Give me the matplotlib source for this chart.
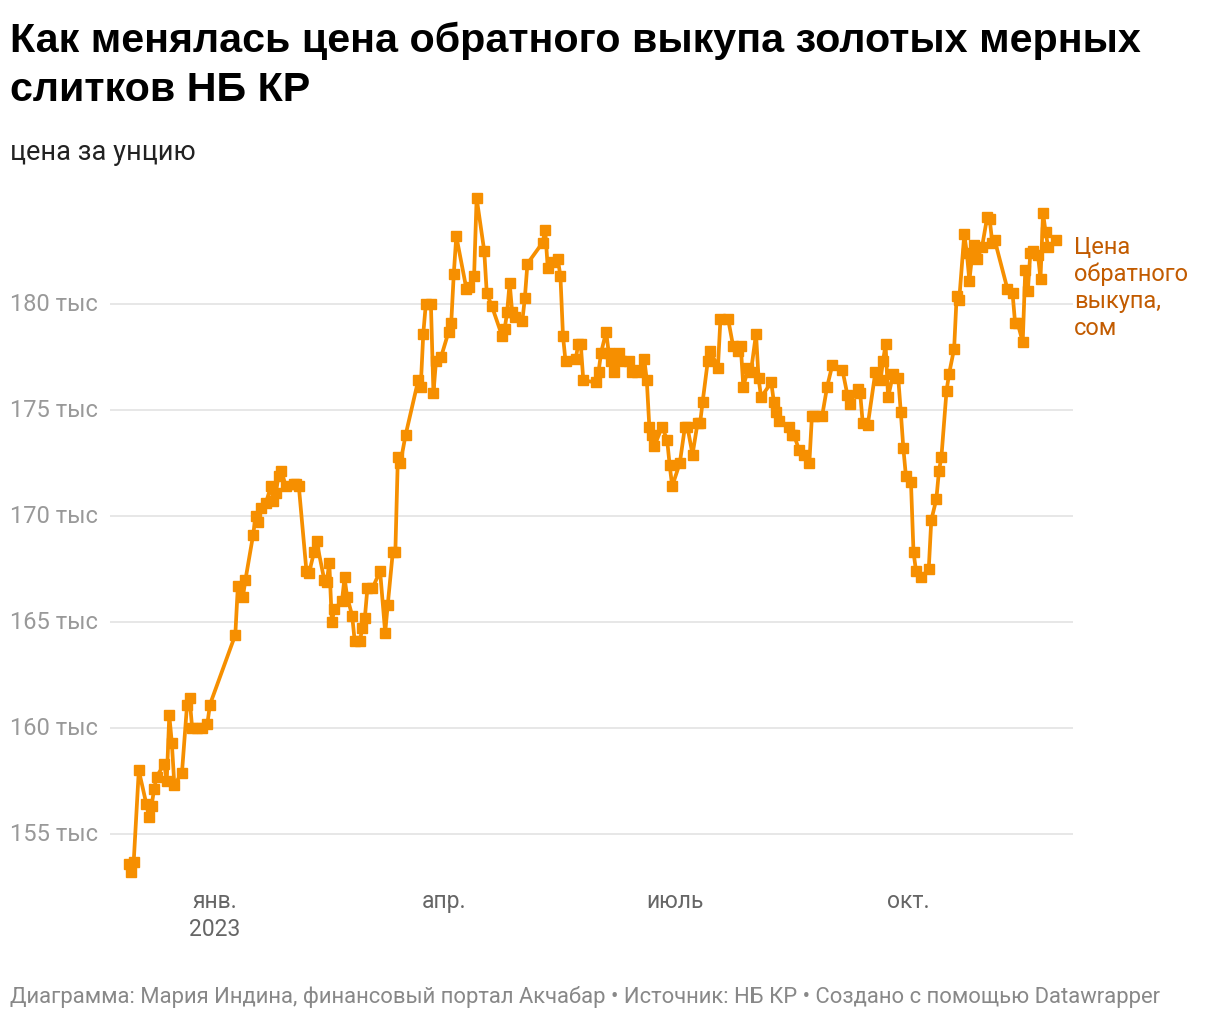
import matplotlib
matplotlib.use("Agg")
import matplotlib.pyplot as plt
import matplotlib.dates as mdates
import matplotlib.transforms as mtransforms
import pandas as pd

# buyback price, thousand som per ounce
dates = [
    "2022-11-28", "2022-11-29", "2022-11-30", "2022-12-02", "2022-12-05", "2022-12-06",
    "2022-12-07", "2022-12-08", "2022-12-09", "2022-12-12", "2022-12-13", "2022-12-14",
    "2022-12-15", "2022-12-16", "2022-12-19", "2022-12-21", "2022-12-22", "2022-12-23",
    "2022-12-25", "2022-12-27", "2022-12-29", "2022-12-30",
    "2023-01-09", "2023-01-10", "2023-01-12", "2023-01-13", "2023-01-16", "2023-01-17",
    "2023-01-18", "2023-01-19", "2023-01-21", "2023-01-23", "2023-01-24", "2023-01-25",
    "2023-01-26", "2023-01-27", "2023-01-29",
    "2023-02-01", "2023-02-02", "2023-02-03", "2023-02-06", "2023-02-07", "2023-02-09",
    "2023-02-10", "2023-02-13", "2023-02-14", "2023-02-15", "2023-02-16", "2023-02-17",
    "2023-02-20", "2023-02-21", "2023-02-22", "2023-02-24", "2023-02-25", "2023-02-27",
    "2023-02-28",
    "2023-03-01", "2023-03-02", "2023-03-04", "2023-03-07", "2023-03-09", "2023-03-10",
    "2023-03-12", "2023-03-13", "2023-03-14", "2023-03-15", "2023-03-17", "2023-03-22",
    "2023-03-23", "2023-03-24", "2023-03-25", "2023-03-27", "2023-03-28", "2023-03-29",
    "2023-03-31",
    "2023-04-03", "2023-04-04", "2023-04-05", "2023-04-06", "2023-04-10", "2023-04-11",
    "2023-04-13", "2023-04-14", "2023-04-17", "2023-04-18", "2023-04-20", "2023-04-24",
    "2023-04-25", "2023-04-26", "2023-04-27", "2023-04-28", "2023-04-29",
    "2023-05-02", "2023-05-03", "2023-05-04", "2023-05-10", "2023-05-11", "2023-05-12",
    "2023-05-14", "2023-05-16", "2023-05-17", "2023-05-18", "2023-05-19", "2023-05-23",
    "2023-05-24", "2023-05-25", "2023-05-26", "2023-05-31",
    "2023-06-01", "2023-06-02", "2023-06-04", "2023-06-05", "2023-06-06", "2023-06-07",
    "2023-06-09", "2023-06-10", "2023-06-13", "2023-06-14", "2023-06-16", "2023-06-17",
    "2023-06-19", "2023-06-20", "2023-06-21", "2023-06-22", "2023-06-23", "2023-06-26",
    "2023-06-28", "2023-06-29", "2023-06-30",
    "2023-07-03", "2023-07-05", "2023-07-06", "2023-07-08", "2023-07-10", "2023-07-11",
    "2023-07-12", "2023-07-14", "2023-07-15", "2023-07-18", "2023-07-19", "2023-07-22",
    "2023-07-24", "2023-07-26", "2023-07-27", "2023-07-28", "2023-07-30", "2023-07-31",
    "2023-08-02", "2023-08-03", "2023-08-04", "2023-08-08", "2023-08-09", "2023-08-10",
    "2023-08-11", "2023-08-15", "2023-08-16", "2023-08-17", "2023-08-19", "2023-08-21",
    "2023-08-23", "2023-08-24", "2023-08-25", "2023-08-28", "2023-08-30",
    "2023-09-01", "2023-09-05", "2023-09-07", "2023-09-08", "2023-09-11", "2023-09-12",
    "2023-09-13", "2023-09-15", "2023-09-18", "2023-09-20", "2023-09-21", "2023-09-22",
    "2023-09-23", "2023-09-25", "2023-09-27", "2023-09-28", "2023-09-29", "2023-09-30",
    "2023-10-02", "2023-10-03", "2023-10-04", "2023-10-06", "2023-10-09", "2023-10-10",
    "2023-10-12", "2023-10-13", "2023-10-14", "2023-10-16", "2023-10-17", "2023-10-19",
    "2023-10-20", "2023-10-21", "2023-10-23", "2023-10-24", "2023-10-25", "2023-10-26",
    "2023-10-27", "2023-10-28", "2023-10-30",
    "2023-11-01", "2023-11-02", "2023-11-03", "2023-11-04", "2023-11-09", "2023-11-11",
    "2023-11-12", "2023-11-13", "2023-11-15", "2023-11-16", "2023-11-17", "2023-11-18",
    "2023-11-19", "2023-11-21", "2023-11-22", "2023-11-23", "2023-11-24", "2023-11-25",
    "2023-11-28",
]

price = [
    153.6, 153.2, 153.7, 158.0, 156.4, 155.8,
    156.3, 157.1, 157.7, 158.3, 157.5, 160.6,
    159.3, 157.3, 157.9, 161.1, 161.4, 160.0,
    160.0, 160.0, 160.2, 161.1,
    164.4, 166.7, 166.2, 167.0, 169.1, 170.0,
    169.7, 170.4, 170.6, 171.4, 170.7, 171.1,
    171.9, 172.1, 171.4,
    171.5, 171.5, 171.4, 167.4, 167.3, 168.3,
    168.8, 167.0, 166.9, 167.8, 165.0, 165.6,
    166.0, 167.1, 166.2, 165.3, 164.1, 164.1,
    164.7,
    165.2, 166.6, 166.6, 167.4, 164.5, 165.8,
    168.3, 168.3, 172.8, 172.5, 173.8, 176.4,
    176.1, 178.6, 180.0, 180.0, 175.8, 177.3,
    177.5,
    178.7, 179.1, 181.4, 183.2, 180.7, 180.8,
    181.3, 185.0, 182.5, 180.5, 179.9, 178.5,
    178.8, 179.6, 181.0, 179.6, 179.4,
    179.2, 180.3, 181.9, 182.9, 183.5, 181.7,
    182.0, 182.1, 181.3, 178.5, 177.3, 177.4,
    178.1, 178.1, 176.4, 176.3,
    176.8, 177.7, 178.7, 177.7, 177.3, 176.8,
    177.7, 177.3, 177.3, 176.8, 176.8, 176.9,
    177.4, 176.4, 174.2, 173.8, 173.3, 174.2,
    173.6, 172.4, 171.4,
    172.5, 174.2, 174.2, 172.9, 174.4, 174.4,
    175.4, 177.3, 177.8, 177.0, 179.3, 179.3,
    178.0, 177.8, 178.0, 176.1, 177.0, 176.8,
    178.6, 176.5, 175.6, 176.3, 175.4, 174.9,
    174.5, 174.2, 173.8, 173.8, 173.1, 172.9,
    172.5, 174.7, 174.7, 174.7, 176.1,
    177.1, 176.9, 175.7, 175.3, 176.0, 175.8,
    174.4, 174.3, 176.8, 176.4, 177.3, 178.1,
    175.6, 176.7, 176.5, 174.9, 173.2, 171.9,
    171.6, 168.3, 167.4, 167.1, 167.5, 169.8,
    170.8, 172.1, 172.8, 175.9, 176.7, 177.9,
    180.4, 180.2, 183.3, 182.4, 181.1, 182.2,
    182.8, 182.1, 182.7,
    184.1, 184.0, 182.9, 183.0, 180.7, 180.5,
    179.1, 179.1, 178.2, 181.6, 180.6, 182.4,
    182.5, 182.3, 181.2, 184.3, 183.4, 182.7,
    183.0,
]

y_ticks = [155, 160, 165, 170, 175, 180]
y_labels = ["155 тыс", "160 тыс", "165 тыс", "170 тыс", "175 тыс", "180 тыс"]
x_ticks = ["2023-01-01", "2023-04-01", "2023-07-01", "2023-10-01"]
x_labels = ["янв.\n2023", "апр.", "июль", "окт."]

line_color = "#f68f00"
label_color = "#c25b00"

plt.rcParams["font.family"] = ["Roboto", "DejaVu Sans"]

x = pd.to_datetime(dates)
W, H = 1220, 1020
fig = plt.figure(figsize=(W / 100, H / 100), dpi=100)

ax_left, ax_right, ax_top, ax_bottom = 110, 1073, 190, 880
ax = fig.add_axes([ax_left / W, 1 - ax_bottom / H,
                   (ax_right - ax_left) / W, (ax_bottom - ax_top) / H])

ax.plot(x, price, color=line_color, lw=2.7, marker="s", ms=7.8,
        mec=line_color, mfc=line_color, solid_joinstyle="round", zorder=3,
        clip_on=False)

jan1 = pd.Timestamp("2023-01-01")
px_per_day = 2.54
ax.set_xlim(mdates.date2num(jan1) - (215 - ax_left) / px_per_day,
            mdates.date2num(jan1) + (ax_right - 215) / px_per_day)
y_per_px = 1 / 21.2
ax.set_ylim(155 - (ax_bottom - 835) * y_per_px, 155 + (835 - ax_top) * y_per_px)

for s in ax.spines.values():
    s.set_visible(False)
ax.set_yticks(y_ticks)
ax.set_yticklabels([])
ax.tick_params(axis="y", length=0)
ax.grid(axis="y", color="#e3e3e3", lw=1.2)
ax.set_axisbelow(True)

ax.set_xticks(pd.to_datetime(x_ticks))
ax.set_xticklabels(x_labels, fontsize=16.5, color="#666666", linespacing=1.3)
ax.tick_params(axis="x", length=0, pad=7)

trans = mtransforms.blended_transform_factory(fig.transFigure, ax.transData)
for v, lab in zip(y_ticks, y_labels):
    ax.text(10 / W, v, lab, transform=trans, ha="left", va="center",
            fontsize=17, color="#999999")

title_font = dict(fontsize=29.7, fontweight="bold", family=["Liberation Sans", "DejaVu Sans"],
                  va="baseline", ha="left", color="#000000")
fig.text(10 / W, 1 - 52 / H, "Как менялась цена обратного выкупа золотых мерных", **title_font)
fig.text(10 / W, 1 - 101 / H, "слитков НБ КР", **title_font)
fig.text(10 / W, 1 - 152 / H, "цена за унцию", fontsize=19.5, va="center", ha="left",
         color="#222222")

fig.text(1074 / W, 1 - 288 / H, "Цена\nобратного\nвыкупа,\nсом",
         fontsize=17, color=label_color, va="center", ha="left", linespacing=1.2)

fig.text(10 / W, 1 - 997 / H,
         "Диаграмма: Мария Индина, финансовый портал Акчабар • Источник: НБ КР • Создано с помощью Datawrapper",
         fontsize=15.8, color="#888888", va="center", ha="left")

fig.savefig("out.png", dpi=100, facecolor="white")
